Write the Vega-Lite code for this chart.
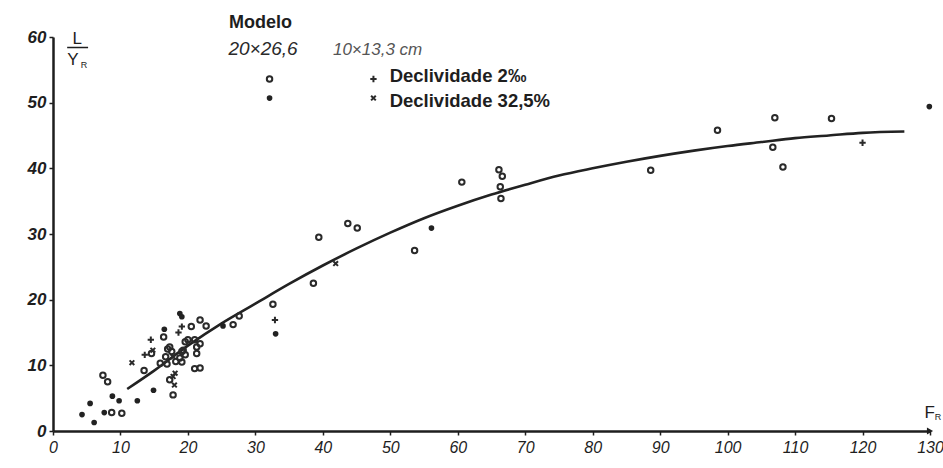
{
  "$schema": "https://vega.github.io/schema/vega-lite/v6.json",
  "width": 877,
  "height": 394,
  "autosize": {"type": "none"},
  "padding": {"left": 53, "top": 37, "right": 13, "bottom": 37},
  "background": "#ffffff",
  "config": {
    "view": {"stroke": null},
    "axis": {"grid": false},
    "text": {"font": "Liberation Sans", "color": "#1e1e1e"}
  },
  "datasets": {
    "obs": [
      {"fr": 7.4, "ly": 8.5, "kind": "open"},
      {"fr": 8.1, "ly": 7.5, "kind": "open"},
      {"fr": 8.7, "ly": 2.8, "kind": "open"},
      {"fr": 10.2, "ly": 2.7, "kind": "open"},
      {"fr": 13.5, "ly": 9.2, "kind": "open"},
      {"fr": 14.6, "ly": 11.8, "kind": "open"},
      {"fr": 16.4, "ly": 14.3, "kind": "open"},
      {"fr": 17.3, "ly": 12.8, "kind": "open"},
      {"fr": 17.6, "ly": 12.1, "kind": "open"},
      {"fr": 17.3, "ly": 7.8, "kind": "open"},
      {"fr": 17.8, "ly": 5.5, "kind": "open"},
      {"fr": 18.8, "ly": 11.1, "kind": "open"},
      {"fr": 19.1, "ly": 12.1, "kind": "open"},
      {"fr": 19.6, "ly": 13.6, "kind": "open"},
      {"fr": 20.5, "ly": 15.9, "kind": "open"},
      {"fr": 21.8, "ly": 16.9, "kind": "open"},
      {"fr": 22.7, "ly": 16.0, "kind": "open"},
      {"fr": 26.7, "ly": 16.2, "kind": "open"},
      {"fr": 27.6, "ly": 17.5, "kind": "open"},
      {"fr": 20.0, "ly": 13.9, "kind": "open"},
      {"fr": 21.0, "ly": 13.9, "kind": "open"},
      {"fr": 21.8, "ly": 13.3, "kind": "open"},
      {"fr": 21.3, "ly": 12.8, "kind": "open"},
      {"fr": 19.3, "ly": 12.3, "kind": "open"},
      {"fr": 19.6, "ly": 11.6, "kind": "open"},
      {"fr": 21.3, "ly": 11.8, "kind": "open"},
      {"fr": 19.1, "ly": 10.5, "kind": "open"},
      {"fr": 21.0, "ly": 9.5, "kind": "open"},
      {"fr": 21.8, "ly": 9.6, "kind": "open"},
      {"fr": 16.9, "ly": 10.2, "kind": "open"},
      {"fr": 15.9, "ly": 10.3, "kind": "open"},
      {"fr": 16.7, "ly": 11.3, "kind": "open"},
      {"fr": 18.2, "ly": 10.6, "kind": "open"},
      {"fr": 17.0, "ly": 12.5, "kind": "open"},
      {"fr": 32.6, "ly": 19.3, "kind": "open"},
      {"fr": 38.6, "ly": 22.5, "kind": "open"},
      {"fr": 39.4, "ly": 29.5, "kind": "open"},
      {"fr": 43.7, "ly": 31.6, "kind": "open"},
      {"fr": 45.1, "ly": 30.9, "kind": "open"},
      {"fr": 53.6, "ly": 27.5, "kind": "open"},
      {"fr": 60.6, "ly": 37.9, "kind": "open"},
      {"fr": 66.1, "ly": 39.8, "kind": "open"},
      {"fr": 66.6, "ly": 38.8, "kind": "open"},
      {"fr": 66.3, "ly": 37.2, "kind": "open"},
      {"fr": 66.4, "ly": 35.4, "kind": "open"},
      {"fr": 88.6, "ly": 39.7, "kind": "open"},
      {"fr": 98.5, "ly": 45.8, "kind": "open"},
      {"fr": 107.0, "ly": 47.7, "kind": "open"},
      {"fr": 106.7, "ly": 43.2, "kind": "open"},
      {"fr": 108.2, "ly": 40.2, "kind": "open"},
      {"fr": 115.4, "ly": 47.6, "kind": "open"},
      {"fr": 4.3, "ly": 2.5, "kind": "filled"},
      {"fr": 5.5, "ly": 4.2, "kind": "filled"},
      {"fr": 6.1, "ly": 1.3, "kind": "filled"},
      {"fr": 7.6, "ly": 2.8, "kind": "filled"},
      {"fr": 8.8, "ly": 5.3, "kind": "filled"},
      {"fr": 9.8, "ly": 4.6, "kind": "filled"},
      {"fr": 12.5, "ly": 4.6, "kind": "filled"},
      {"fr": 14.9, "ly": 6.2, "kind": "filled"},
      {"fr": 16.5, "ly": 15.5, "kind": "filled"},
      {"fr": 18.8, "ly": 17.9, "kind": "filled"},
      {"fr": 19.1, "ly": 17.4, "kind": "filled"},
      {"fr": 25.2, "ly": 16.0, "kind": "filled"},
      {"fr": 33.0, "ly": 14.8, "kind": "filled"},
      {"fr": 56.1, "ly": 30.9, "kind": "filled"},
      {"fr": 129.9, "ly": 49.4, "kind": "filled"},
      {"fr": 13.6, "ly": 11.6, "kind": "plus"},
      {"fr": 14.5, "ly": 13.9, "kind": "plus"},
      {"fr": 18.6, "ly": 15.0, "kind": "plus"},
      {"fr": 19.1, "ly": 15.9, "kind": "plus"},
      {"fr": 32.9, "ly": 16.9, "kind": "plus"},
      {"fr": 120.0, "ly": 43.9, "kind": "plus"},
      {"fr": 11.7, "ly": 10.4, "kind": "cross"},
      {"fr": 14.8, "ly": 12.3, "kind": "cross"},
      {"fr": 17.8, "ly": 11.3, "kind": "cross"},
      {"fr": 17.8, "ly": 8.3, "kind": "cross"},
      {"fr": 18.0, "ly": 7.0, "kind": "cross"},
      {"fr": 18.1, "ly": 8.8, "kind": "cross"},
      {"fr": 41.9, "ly": 25.5, "kind": "cross"},
      {"fr": 32.1, "ly": 53.6, "kind": "open"},
      {"fr": 32.1, "ly": 50.7, "kind": "filled"},
      {"fr": 47.5, "ly": 53.6, "kind": "plus"},
      {"fr": 47.5, "ly": 50.7, "kind": "cross"}
    ],
    "fit": [
      {"fr": 11.0, "ly": 6.4},
      {"fr": 15, "ly": 9.2},
      {"fr": 20, "ly": 13.0},
      {"fr": 25, "ly": 16.4},
      {"fr": 30, "ly": 19.4},
      {"fr": 35, "ly": 22.4},
      {"fr": 40, "ly": 25.2},
      {"fr": 45, "ly": 27.8},
      {"fr": 50, "ly": 30.2},
      {"fr": 55, "ly": 32.4},
      {"fr": 60, "ly": 34.3},
      {"fr": 65, "ly": 36.0},
      {"fr": 70, "ly": 37.5},
      {"fr": 75, "ly": 38.9},
      {"fr": 80, "ly": 40.0},
      {"fr": 85, "ly": 41.0},
      {"fr": 90, "ly": 41.9},
      {"fr": 95, "ly": 42.7},
      {"fr": 100, "ly": 43.4},
      {"fr": 105, "ly": 44.0},
      {"fr": 110, "ly": 44.6},
      {"fr": 115, "ly": 45.0},
      {"fr": 120, "ly": 45.4},
      {"fr": 126.2, "ly": 45.6}
    ]
  },
  "encoding": {
    "x": {
      "field": "fr",
      "type": "quantitative",
      "scale": {"domain": [0, 130], "nice": false, "zero": false},
      "axis": {
        "title": null,
        "values": [0, 10, 20, 30, 40, 50, 60, 70, 80, 90, 100, 110, 120, 130],
        "domainColor": "#1e1e1e",
        "domainWidth": 2.5,
        "tickColor": "#1e1e1e",
        "tickWidth": 1.5,
        "tickSize": 4,
        "labelFont": "Liberation Sans",
        "labelFontStyle": "italic",
        "labelFontSize": 16,
        "labelColor": "#1e1e1e",
        "labelPadding": 4,
        "labelFlush": false
      }
    },
    "y": {
      "field": "ly",
      "type": "quantitative",
      "scale": {"domain": [0, 60], "nice": false, "zero": false},
      "axis": {
        "title": null,
        "values": [0, 10, 20, 30, 40, 50, 60],
        "domainColor": "#1e1e1e",
        "domainWidth": 2.5,
        "tickColor": "#1e1e1e",
        "tickWidth": 1.5,
        "tickSize": 4,
        "labelFont": "Liberation Sans",
        "labelFontStyle": "italic",
        "labelFontWeight": "bold",
        "labelFontSize": 17,
        "labelColor": "#1e1e1e",
        "labelPadding": 3,
        "labelFlush": false
      }
    }
  },
  "layer": [
    {
      "data": {"name": "fit"},
      "mark": {"type": "line", "color": "#222222", "strokeWidth": 2.6, "interpolate": "monotone"}
    },
    {
      "data": {"name": "obs"},
      "transform": [{"filter": "datum.kind === 'open'"}],
      "mark": {"type": "point", "shape": "circle", "filled": false, "stroke": "#2a2a2a", "strokeWidth": 2, "size": 30, "opacity": 1}
    },
    {
      "data": {"name": "obs"},
      "transform": [{"filter": "datum.kind === 'filled'"}],
      "mark": {"type": "point", "shape": "circle", "filled": true, "color": "#222222", "size": 32, "opacity": 1}
    },
    {
      "data": {"name": "obs"},
      "transform": [{"filter": "datum.kind === 'plus'"}],
      "mark": {"type": "point", "shape": "M-1,0L1,0M0,-1L0,1", "filled": false, "stroke": "#2a2a2a", "strokeWidth": 2, "size": 40, "opacity": 1}
    },
    {
      "data": {"name": "obs"},
      "transform": [{"filter": "datum.kind === 'cross'"}],
      "mark": {"type": "point", "shape": "M-1,-1L1,1M-1,1L1,-1", "filled": false, "stroke": "#2a2a2a", "strokeWidth": 2, "size": 22, "opacity": 1}
    },
    {
      "data": {"values": [{"fr": 130, "ly": 0}]},
      "mark": {"type": "point", "shape": "triangle-right", "filled": true, "color": "#1e1e1e", "size": 50, "opacity": 1}
    },
    {
      "data": {"values": [{"fr": 26.1, "ly": 61.3, "label": "Modelo"}]},
      "mark": {"type": "text", "align": "left", "baseline": "alphabetic", "fontSize": 18, "fontWeight": "bold"},
      "encoding": {"text": {"field": "label"}}
    },
    {
      "data": {"values": [{"fr": 26.0, "ly": 57.2, "label": "20×26,6"}]},
      "mark": {"type": "text", "align": "left", "baseline": "alphabetic", "fontSize": 19, "fontStyle": "italic", "color": "#2a2a2a"},
      "encoding": {"text": {"field": "label"}}
    },
    {
      "data": {"values": [{"fr": 41.5, "ly": 57.2, "label": "10×13,3 cm"}]},
      "mark": {"type": "text", "align": "left", "baseline": "alphabetic", "fontSize": 17, "fontStyle": "italic", "color": "#555555"},
      "encoding": {"text": {"field": "label"}}
    },
    {
      "data": {"values": [
        {"fr": 49.9, "ly": 53.1, "label": "Declividade 2‰"},
        {"fr": 49.9, "ly": 49.4, "label": "Declividade 32,5%"}
      ]},
      "mark": {"type": "text", "align": "left", "baseline": "alphabetic", "fontSize": 18.5, "fontWeight": "bold"},
      "encoding": {"text": {"field": "label"}}
    },
    {
      "data": {"values": [{"fr": 3.6, "ly": 58.9, "label": "L"}]},
      "mark": {"type": "text", "align": "center", "baseline": "alphabetic", "fontSize": 17},
      "encoding": {"text": {"field": "label"}}
    },
    {
      "data": {"values": [{"fr": 2.1, "fr2": 5.2, "ly": 58.4}]},
      "mark": {"type": "rule", "color": "#1e1e1e", "strokeWidth": 1.5},
      "encoding": {"x2": {"field": "fr2"}}
    },
    {
      "data": {"values": [{"fr": 2.1, "ly": 55.7, "label": "Y"}, {"fr": 129.2, "ly": 2.0, "label": "F"}]},
      "mark": {"type": "text", "align": "left", "baseline": "alphabetic", "fontSize": 17},
      "encoding": {"text": {"field": "label"}}
    },
    {
      "data": {"values": [{"fr": 4.1, "ly": 55.25, "label": "R"}, {"fr": 130.7, "ly": 1.7, "label": "R"}]},
      "mark": {"type": "text", "align": "left", "baseline": "alphabetic", "fontSize": 9},
      "encoding": {"text": {"field": "label"}}
    }
  ]
}
